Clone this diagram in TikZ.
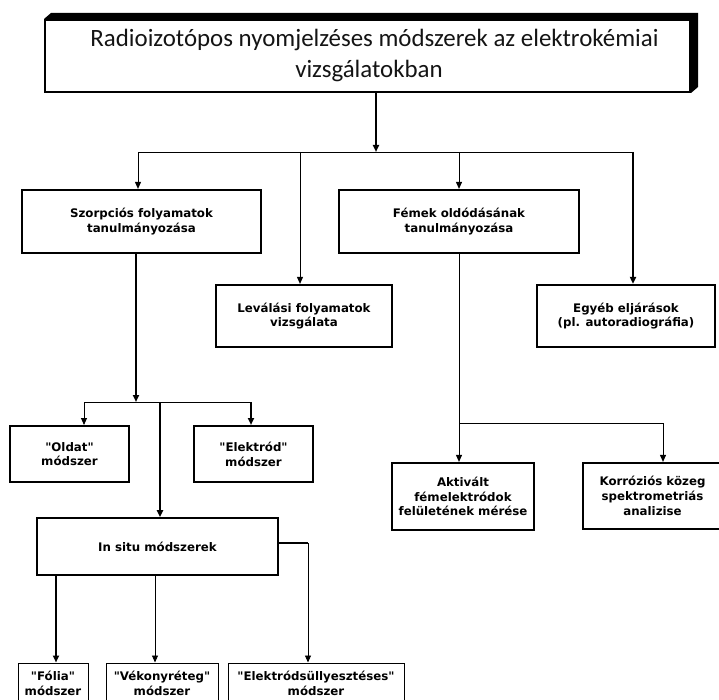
\documentclass[tikz,border=0pt]{standalone}
\usepackage{fontspec}
\setmainfont{DejaVu Sans}[Ligatures=TeXOff]
\newfontfamily\titlefont{Carlito}
\usetikzlibrary{arrows.meta,backgrounds}
\begin{document}
\begin{tikzpicture}[x=1pt,y=-1pt,
  every node/.style={align=center, inner sep=0pt},
  box/.style={draw, fill=white, line width=2.2pt, font=\fontsize{11.8}{14.8}\selectfont\bfseries},
  lbox/.style={box, line width=1.6pt},
  sbox/.style={box, line width=1pt},
  ttl/.style={anchor=base, text=black!92, font=\titlefont\fontsize{24.9}{30}\selectfont},
  tri/.style={-{Triangle[length=7pt,width=6pt]}},
  thinl/.style={line width=0.9pt},
  thickl/.style={line width=2pt}]
\useasboundingbox (0,0) rectangle (719,700);
\begin{scope}
\clip (0,0) rectangle (719,700);
% title
\node[draw, fill=white, line width=2pt, minimum width=645, minimum height=72] (title) at (367.5,56) {};
\node[ttl] (ttext1) at (374.5,47) {Radioizotópos nyomjelzéses módszerek az elektrokémiai};
\node[ttl] (ttext2) at (369,78) {vizsgálatokban};
% level 1
\node[box, minimum width=239, minimum height=63] (szorp) at (141.5,221.5) {Szorpciós folyamatok\\tanulmányozása};
\node[box, minimum width=240, minimum height=63] (femek) at (459,221.5) {Fémek oldódásának\\tanulmányozása};
\node[box, minimum width=176, minimum height=62] (leval) at (304,316) {Leválási folyamatok\\vizsgálata};
\node[box, minimum width=178, minimum height=62] (egyeb) at (626,316) {Egyéb eljárások\\(pl. autoradiográfia)};
% level 2
\node[box, line width=2pt, minimum width=119, minimum height=56] (oldat) at (69.5,454) {"Oldat"\\módszer};
\node[box, line width=2pt, minimum width=119, minimum height=56] (elektrod) at (253.5,454) {"Elektród"\\módszer};
\node[box, minimum width=142, minimum height=67] (aktiv) at (463,496.5) {Aktivált\\fémelektródok\\felületének mérése};
\node[box, minimum width=139, minimum height=66] (korroz) at (652.5,496) {Korróziós közeg\\spektrometriás\\analizise};
\node[lbox, minimum width=241, minimum height=57] (insitu) at (157.5,546.5) {In situ módszerek};
% level 3
\node[sbox, minimum width=70, minimum height=40] (folia) at (53,683) {"Fólia"\\módszer};
\node[sbox, minimum width=112, minimum height=40] (vekony) at (162,683) {"Vékonyréteg"\\módszer};
\node[sbox, minimum width=176, minimum height=40] (elsully) at (316,683) {"Elektródsüllyesztéses"\\módszer};
% title shadow
\begin{scope}[on background layer]
\fill[white] (0,0) rectangle (719,700);
\fill (title.north west) -- ++(7,-6) -- ([shift={(7,-6)}]title.north east)
  -- ([shift={(7,-6)}]title.south east) -- (title.south east) -- cycle;
\end{scope}
% connectors from title
\coordinate (bus) at (376,152);
\coordinate (busL) at (138,152);
\coordinate (busR) at (633,152);
\coordinate (bLev) at (300,152);
\coordinate (bFem) at (459,152);
\draw[thickl, tri] (title.south -| bus) -- (bus);
\draw[thinl] (busL) -- (busR);
\draw[thinl, tri] (busL) -- (busL |- szorp.north);
\draw[thinl, tri] (bLev) -- (bLev |- leval.north);
\draw[thinl, tri] (bFem) -- (bFem |- femek.north);
\draw[thickl, tri] (busR) -- (busR |- egyeb.north);
% from Szorpciós
\coordinate (sz) at (136,402);
\coordinate (oL) at (84,402);
\coordinate (oR) at (251,402);
\coordinate (iS) at (160,402);
\draw[thickl, tri] (szorp.south -| sz) -- (sz);
\draw[thinl] (oL) -- (oR);
\draw[thinl, tri] (oL) -- (oL |- oldat.north);
\draw[thickl, tri] (oR) -- (oR |- elektrod.north);
\draw[thickl, tri] (iS) -- (iS |- insitu.north);
% from Fémek
\coordinate (fL) at (459,423);
\coordinate (fR) at (663,423);
\draw[thinl] (femek.south -| fL) -- (fL) -- (fR);
\draw[thinl, tri] (fL) -- (fL |- aktiv.north);
\draw[thinl, tri] (fR) -- (fR |- korroz.north);
% from In situ
\coordinate (fo) at (56,600);
\coordinate (vk) at (155,600);
\coordinate (es) at (308,543);
\draw[thickl, tri] (insitu.south -| fo) -- (fo |- folia.north);
\draw[thinl, tri] (insitu.south -| vk) -- (vk |- vekony.north);
\draw[thickl] (insitu.east |- es) -- (es);
\draw[thinl, tri] (es) -- (es |- elsully.north);
\end{scope}
\end{tikzpicture}
\end{document}
